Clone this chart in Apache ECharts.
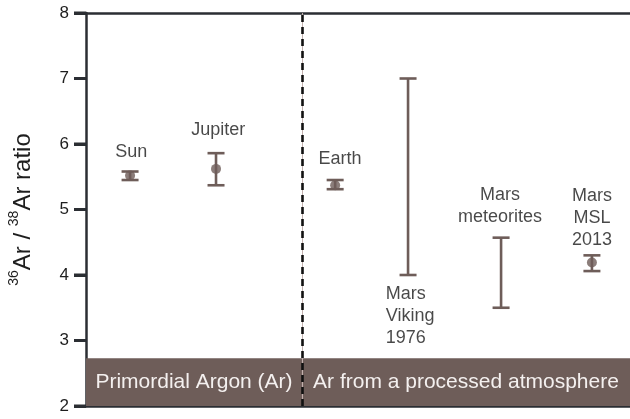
<!DOCTYPE html>
<html>
<head>
<meta charset="utf-8">
<script src="https://cdn.jsdelivr.net/npm/echarts@6/dist/echarts.min.js"></script>
<style>
  html, body { margin: 0; padding: 0; background: #fff; }
  #chart { width: 630px; height: 419px; }
</style>
</head>
<body>
<div id="chart"></div>
<script>
// measurements (36Ar/38Ar ratio)
const sites = ['Sun', 'Jupiter', 'Earth', 'Mars Viking 1976', 'Mars meteorites', 'Mars MSL 2013'];
const sitePos = [0.81, 2.39, 4.58, 5.92, 7.63, 9.30];
const ratioLow = [5.45, 5.37, 5.31, 4.00, 3.50, 4.06];
const ratioHigh = [5.58, 5.86, 5.45, 7.00, 4.57, 4.30];
const ratioMean = [5.52, 5.62, 5.37, null, null, 4.19];

// annotation labels
const labelText = ['Sun', 'Jupiter', 'Earth', 'Mars\nViking\n1976', 'Mars\nmeteorites', 'Mars\nMSL\n2013'];
const labelX = [0.83, 2.43, 4.67, 5.51, 7.61, 9.30];
const labelY = [5.88, 6.22, 5.77, 3.37, 5.05, 4.87];
const labelAlign = ['center', 'center', 'center', 'left', 'center', 'center'];

// regions
const regionSplit = 3.97;
const regionNames = ['Primordial Argon (Ar)', 'Ar from a processed atmosphere'];
const bandTop = 2.73;
const yTicks = [2, 3, 4, 5, 6, 7, 8];

const brown = '#6e5d59';
const ink = '#2b2e33';

const chart = echarts.init(document.getElementById('chart'));

// plain frame axis (top and bottom lines only)
const frameAxis = (pos) => ({
  type: 'value', min: 0, max: 10, position: pos,
  axisLine: { show: true, onZero: false, lineStyle: { color: ink, width: 2.5 } },
  axisTick: { show: false }, axisLabel: { show: false }, splitLine: { show: false }
});

const option = {
  animation: false,
  textStyle: { fontFamily: 'Liberation Sans, Arial, sans-serif' },
  grid: { left: 86, right: 0, top: 13, bottom: 13, outerBoundsMode: 'none' },
  xAxis: [frameAxis('bottom'), frameAxis('top')],
  yAxis: {
    type: 'value', min: yTicks[0], max: yTicks[yTicks.length - 1], interval: 1,
    axisLine: { show: true, lineStyle: { color: ink, width: 2.5 } },
    axisTick: { show: true, length: 12, lineStyle: { color: ink, width: 3 } },
    axisLabel: { fontSize: 17, color: '#1e1e1e', margin: 17 },
    splitLine: { show: false },
    name: '{sup|36}{main|Ar / }{sup|38}{main|Ar ratio}',
    nameLocation: 'middle',
    nameRotate: 90,
    nameGap: 51,
    nameTextStyle: {
      rich: {
        main: { fontSize: 24, color: '#1e1e1e', lineHeight: 28, verticalAlign: 'bottom' },
        sup: { fontSize: 14, color: '#1e1e1e', lineHeight: 28, verticalAlign: 'top' }
      }
    }
  },
  series: [
    {
      // annotation text + background band
      type: 'scatter',
      symbolSize: 0,
      silent: true,
      z: 1,
      data: labelText.map((t, i) => ({
        value: [labelX[i], labelY[i]],
        label: {
          show: true, position: 'inside', formatter: t,
          align: labelAlign[i], verticalAlign: 'middle',
          fontSize: 18, lineHeight: 22, color: '#1a1a1a'
        }
      })),
      markArea: {
        silent: true,
        itemStyle: { color: brown },
        label: {
          position: 'inside', color: '#f4f0ef', fontSize: 21
        },
        data: [
          [{ name: regionNames[0], xAxis: 0, yAxis: 2 }, { xAxis: regionSplit, yAxis: bandTop }],
          [{ name: regionNames[1], xAxis: regionSplit, yAxis: 2 }, { xAxis: 10, yAxis: bandTop }]
        ]
      }
    },
    {
      // region divider
      type: 'scatter',
      data: [],
      z: 5,
      markLine: {
        silent: true, symbol: 'none', label: { show: false },
        data: [
          { xAxis: regionSplit, lineStyle: { color: '#c2b1ae', width: 1, type: 'solid' } },
          { xAxis: regionSplit, lineStyle: { color: '#111', width: 2.6, type: [7, 5] } }
        ]
      }
    },
    {
      // y-axis tick marks, drawn outside the plot at each tick value
      type: 'custom',
      z: 6,
      silent: true,
      clip: false,
      data: yTicks.map(v => [0, v]),
      renderItem: (params, api) => {
        const p = api.coord([api.value(0), api.value(1)]);
        return {
          type: 'line',
          shape: { x1: p[0] - 12, y1: p[1], x2: p[0], y2: p[1] },
          style: { stroke: ink, lineWidth: 3 }
        };
      }
    },
    {
      // error bars
      type: 'custom',
      z: 3,
      data: sites.map((s, i) => [sitePos[i], ratioLow[i], ratioHigh[i]]),
      renderItem: (params, api) => {
        const x = api.value(0);
        const pLo = api.coord([x, api.value(1)]);
        const pHi = api.coord([x, api.value(2)]);
        const hw = 8.5;
        const style = { stroke: brown, lineWidth: 2.6 };
        return {
          type: 'group',
          children: [
            { type: 'line', shape: { x1: pLo[0], y1: pLo[1], x2: pHi[0], y2: pHi[1] }, style },
            { type: 'line', shape: { x1: pLo[0] - hw, y1: pLo[1], x2: pLo[0] + hw, y2: pLo[1] }, style },
            { type: 'line', shape: { x1: pHi[0] - hw, y1: pHi[1], x2: pHi[0] + hw, y2: pHi[1] }, style }
          ]
        };
      }
    },
    {
      // mean values
      type: 'scatter',
      z: 4,
      symbol: 'circle',
      symbolSize: 10,
      itemStyle: { color: brown },
      data: sites.map((s, i) => ratioMean[i] == null ? null : [sitePos[i], ratioMean[i]]).filter(d => d)
    }
  ]
};

chart.setOption(option);
</script>
</body>
</html>
